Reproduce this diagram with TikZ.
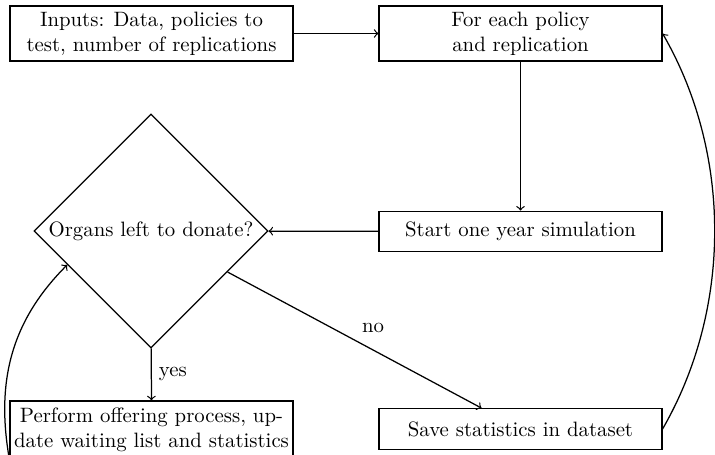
\documentclass[tikz,border=0pt]{standalone}
\usetikzlibrary{shapes.geometric,arrows}
\begin{document}
\begin{tikzpicture}[x=0.4808pt,y=-0.4808pt,semithick,
  box/.style={draw, align=center, minimum width=136pt, inner sep=0pt},
  tall/.style={minimum height=26.4pt},
  taller/.style={minimum height=27.9pt},
  short/.style={minimum height=19.5pt},
  dec/.style={draw, shape=diamond, inner sep=0pt, minimum width=112.5pt, minimum height=112.5pt},
  conn/.style={->}]
\useasboundingbox (0,0) rectangle (715,454);
\node[box,tall] (in) at (151.5,33.5) {Inputs: Data, policies to\\test, number of replications};
\node[box,tall] (for) at (520.5,33.5) {For each policy\\and replication};
\node[box,short] (start) at (520.5,231.5) {Start one year simulation};
\node[dec] (dia) at (151,231) {Organs left to donate?};
\node[box,taller] (perf) at (151.5,430) {Perform offering process, up-\\date waiting list and statistics};
\node[box,short] (save) at (520.5,429) {Save statistics in dataset};
\draw[conn] (in) -- (for);
\draw[conn] (for) -- (start);
\draw[conn] (start) -- (dia);
\draw[conn] (dia) -- node[midway,right] {yes} (perf);
\draw[conn] (dia) -- node[midway,above right] {no} (save);
\draw[conn] (perf.south west) to[out=100,in=225] (dia.202);
\draw[conn] (save.east) to[out=60,in=-60,looseness=0.9] (for.east);
\end{tikzpicture}
\end{document}
